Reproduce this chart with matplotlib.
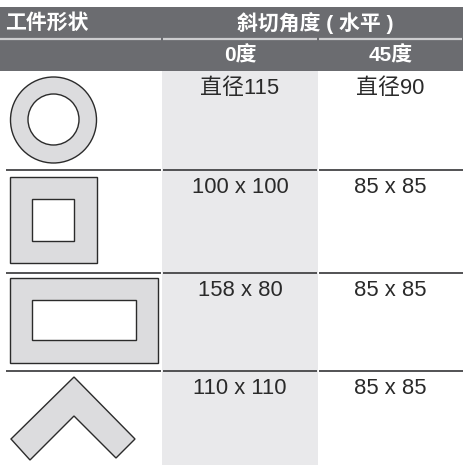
import matplotlib.pyplot as plt
from matplotlib.patches import Rectangle, Circle, Polygon

plt.rcParams['font.family'] = ['Liberation Sans', 'Noto Sans CJK SC', 'DejaVu Sans']

# table content
header_left = "工件形状"
header_span = "斜切角度 ( 水平 )"
col_labels = ["0度", "45度"]
shapes = ["ring", "square", "rect", "chevron"]
cut_0 = ["直径115", "100 x 100", "158 x 80", "110 x 110"]
cut_45 = ["直径90", "85 x 85", "85 x 85", "85 x 85"]

# layout in pixels (origin top-left)
W, H = 463, 465
col_x = [0, 162, 318, 463]
head_top, head_mid, head_bot = 7, 39, 71
row_tops = [71, 170, 273, 371, 465]
dark = "#6b6c70"
light_col = "#e9e9eb"
shape_fill = "#dcdcde"
edge = "#2b2b2b"

fig = plt.figure(figsize=(W / 100, H / 100), dpi=100)
ax = fig.add_axes([0, 0, 1, 1])
ax.set_xlim(0, W)
ax.set_ylim(H, 0)
ax.axis('off')

# header block
ax.add_patch(Rectangle((0, head_top), W, head_bot - head_top, color=dark, lw=0))
for i in range(3):
    x0 = col_x[i] + (0.8 if i > 0 else 0)
    x1 = col_x[i + 1] - 0.8
    ax.plot([x0, x1], [head_mid, head_mid], color="#cdcdcf", lw=1.6, solid_capstyle='butt')
ax.text(5, 23, header_left, color='white', fontsize=15, fontweight='bold', va='center', ha='left')
ax.text(315, 23, header_span, color='white', fontsize=15,
        fontweight='bold', va='center', ha='center')
for i, lab in enumerate(col_labels):
    cx = (col_x[i + 1] + col_x[i + 2]) / 2
    ax.text(cx, 56, lab, color='white', fontsize=15, fontweight='bold', va='center', ha='center')

# shaded 0-degree column
ax.add_patch(Rectangle((col_x[1], head_bot), col_x[2] - col_x[1], H - head_bot, color=light_col, lw=0))

# row separators
for y in row_tops[1:-1]:
    ax.plot([6, col_x[1] - 0.8], [y, y], color="#444446", lw=1.3, solid_capstyle='butt')
    ax.plot([col_x[1] + 0.8, col_x[2] - 0.8], [y, y], color="#444446", lw=1.3, solid_capstyle='butt')
    ax.plot([col_x[2] + 0.8, W], [y, y], color="#444446", lw=1.3, solid_capstyle='butt')

# values
for r in range(4):
    yc = row_tops[r] + 17.5
    ax.text((col_x[1] + col_x[2]) / 2, yc, cut_0[r], fontsize=15.8, color="#2a2a2a", va='center', ha='center')
    ax.text((col_x[2] + col_x[3]) / 2, yc, cut_45[r], fontsize=15.8, color="#2a2a2a", va='center', ha='center')

# workpiece shapes
kw = dict(ec=edge, lw=1.0)
for r, s in enumerate(shapes):
    if s == "ring":
        ax.add_patch(Circle((53.5, 120), 43, fc=shape_fill, **kw))
        ax.add_patch(Circle((53.5, 119.5), 25.5, fc='white', **kw))
    elif s == "square":
        ax.add_patch(Rectangle((10, 177), 87, 86, fc=shape_fill, **kw))
        ax.add_patch(Rectangle((32, 199), 42, 42, fc='white', **kw))
    elif s == "rect":
        ax.add_patch(Rectangle((10, 278), 148, 85, fc=shape_fill, **kw))
        ax.add_patch(Rectangle((32, 300), 104, 40, fc='white', **kw))
    else:
        pts = [(74, 377), (11, 439), (30, 460), (74, 416), (116, 458), (135, 439)]
        ax.add_patch(Polygon(pts, closed=True, fc=shape_fill, **kw))

fig.savefig("out.png", dpi=100)
